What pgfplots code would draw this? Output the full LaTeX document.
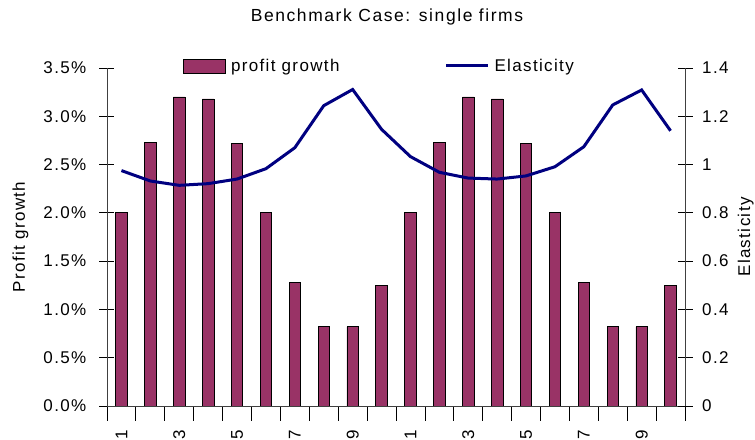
\documentclass[border=0pt]{standalone}
\usepackage{fontspec}
\setmainfont{Liberation Sans}[LetterSpace=8]
\usepackage{pgfplots}
\usepackage{pgfplotstable}
\pgfplotsset{compat=1.18}
\definecolor{plum}{HTML}{993366}
\definecolor{navyline}{HTML}{000080}

\pgfplotstableread{
x pg el
1 2.00 0.975
2 2.73 0.932
3 3.20 0.914
4 3.18 0.921
5 2.72 0.940
6 2.00 0.983
7 1.28 1.070
8 0.82 1.244
9 0.82 1.311
10 1.25 1.146
11 2.00 1.033
12 2.73 0.968
13 3.20 0.944
14 3.18 0.940
15 2.72 0.953
16 2.00 0.991
17 1.28 1.074
18 0.82 1.247
19 0.82 1.309
20 1.25 1.140
}\datatable

\begin{document}
\begin{tikzpicture}
\pgfplotsset{
  every axis/.append style={
    scale only axis, width=578bp, height=338bp,
    xmin=0.5, xmax=20.5,
    font=\fontsize{17bp}{20bp}\selectfont,
    tick align=center,
    major tick length=15bp, minor tick length=15bp,
    tick style={black, line width=0.8bp},
    axis line style={black!75, line width=0.8bp},
    /pgf/number format/assume math mode=true,
  }
}
\begin{axis}[
  ymin=0, ymax=3.5,
  axis x line*=bottom, axis y line*=left,
  ytick={0,0.5,1,1.5,2,2.5,3,3.5},
  yticklabel={\pgfmathprintnumber[fixed,fixed zerofill,precision=1]{\tick}\%},
  yticklabel style={anchor=east, inner sep=0pt},
  yticklabel shift=13bp,
  xtick={1,3,5,7,9,11,13,15,17,19},
  xticklabels={1,3,5,7,9,11,13,15,17,19},
  minor xtick={0.5,1.5,...,20.5},
  major x tick style={draw=none},
  xticklabel style={rotate=90, anchor=east, inner sep=0pt},
  xticklabel shift=9bp,
  ybar, bar width=11.5bp,
  ylabel={Profit growth},
  ylabel style={at={([xshift=-82bp]axis description cs:0,0.5)}, anchor=base},
  title={Benchmark Case: single firms},
  title style={at={(axis description cs:0.4844,1)}, anchor=base, yshift=40.3bp, font=\fontsize{17.5bp}{20bp}\selectfont\addfontfeature{LetterSpace=9}},
]
\addplot[fill=plum, draw=black, line width=0.8bp] table[x=x,y=pg]{\datatable};
\end{axis}
\begin{axis}[
  ymin=0, ymax=1.4,
  axis x line=none, axis y line*=right,
  ytick={0,0.2,0.4,0.6,0.8,1,1.2,1.4},
  yticklabel style={anchor=west, inner sep=0pt},
  yticklabel shift=9.5bp,
  ylabel={Elasticity},
  ylabel style={at={([xshift=65bp]axis description cs:1,0.5)}, anchor=base},
  legend columns=2,
  legend style={at={(axis description cs:0.1315,1.006)}, anchor=west, draw=none, fill=none,
    inner sep=0pt, /tikz/column sep=5bp, nodes={inner sep=0pt},
    /tikz/every even column/.append style={column sep=105bp}},
]
\addlegendimage{legend image code/.code={\draw[fill=plum,draw=black,line width=0.8bp] (0bp,-7bp) rectangle (42bp,7bp);}}
\addlegendentry{profit growth}
\addplot[navyline, line width=3bp, mark=none, legend image code/.code={\draw[navyline,line width=3bp] (0bp,0bp) -- (42bp,0bp);}] table[x=x,y=el]{\datatable};
\addlegendentry{Elasticity}
\end{axis}
\pgfresetboundingbox
\useasboundingbox (-107bp,-34bp) rectangle (648bp,406bp);
\end{tikzpicture}
\end{document}
